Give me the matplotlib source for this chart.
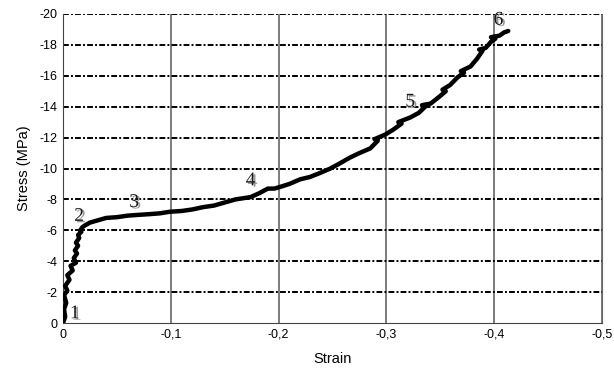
import matplotlib
matplotlib.use("Agg")
import matplotlib.pyplot as plt
import matplotlib.patheffects as pe
from matplotlib.ticker import FuncFormatter

# stress-strain curve (compression: both negative)
strain = [0.000, -0.002, -0.001, -0.003, -0.001, -0.004, -0.002, -0.006, -0.004,
          -0.009, -0.007, -0.012, -0.010, -0.013, -0.011, -0.014, -0.012, -0.015,
          -0.014, -0.017, -0.016, -0.018, -0.020, -0.025, -0.030, -0.035, -0.040,
          -0.050, -0.060, -0.070, -0.081, -0.090, -0.099, -0.110, -0.120, -0.130,
          -0.140, -0.150, -0.160, -0.174, -0.182, -0.190, -0.196, -0.201, -0.210,
          -0.220, -0.229, -0.238, -0.248, -0.256, -0.266, -0.275, -0.285, -0.292,
          -0.289, -0.299, -0.306, -0.314, -0.311, -0.322, -0.330, -0.336, -0.333,
          -0.341, -0.350, -0.355, -0.352, -0.359, -0.366, -0.372, -0.369, -0.378,
          -0.384, -0.389, -0.386, -0.392, -0.397, -0.401, -0.397, -0.405, -0.409,
          -0.413]
stress = [0.0, -0.4, -0.9, -1.3, -1.8, -2.1, -2.4, -2.8, -3.1,
          -3.4, -3.7, -3.9, -4.2, -4.5, -4.7, -5.0, -5.2, -5.5,
          -5.7, -5.9, -6.0, -6.2, -6.3, -6.5, -6.6, -6.7, -6.8,
          -6.85, -6.95, -7.0, -7.05, -7.1, -7.2, -7.25, -7.35, -7.5,
          -7.6, -7.8, -8.0, -8.15, -8.4, -8.7, -8.7, -8.8, -9.0,
          -9.3, -9.45, -9.7, -10.0, -10.3, -10.7, -11.0, -11.3, -11.8,
          -11.9, -12.2, -12.5, -12.9, -13.0, -13.3, -13.6, -14.0, -14.1,
          -14.2, -14.7, -15.0, -15.1, -15.4, -15.9, -16.2, -16.3, -16.6,
          -17.1, -17.6, -17.7, -17.8, -18.2, -18.4, -18.5, -18.6, -18.8,
          -18.9]

# numbered stages along the curve
stage_labels = ["1", "2", "3", "4", "5", "6"]
stage_strain = [-0.011, -0.015, -0.066, -0.174, -0.322, -0.404]
stage_stress = [-0.6, -6.9, -7.8, -9.2, -14.3, -19.6]

x_ticks = [0, -0.1, -0.2, -0.3, -0.4, -0.5]
y_ticks = [0, -2, -4, -6, -8, -10, -12, -14, -16, -18, -20]

plt.rcParams["font.family"] = ["Liberation Sans", "DejaVu Sans"]

fig = plt.figure(figsize=(6.14, 3.73), dpi=100)
ax = fig.add_axes([0.1026, 0.134, 0.8779, 0.8285])

ax.set_xlim(0, -0.5)
ax.set_ylim(0, -20)
ax.set_xticks(x_ticks)
ax.set_yticks(y_ticks)

comma = FuncFormatter(lambda v, _: ("%g" % v).replace(".", ",") if v != 0 else "0")
ax.xaxis.set_major_formatter(comma)
ax.yaxis.set_major_formatter(FuncFormatter(lambda v, _: "%d" % v if v != 0 else "0"))
ax.tick_params(length=0, labelsize=9, pad=4)

# grid: grey solid verticals, black dash-dot horizontals
for xv in x_ticks[1:]:
    ax.axvline(xv, color="#666666", lw=1.2, zorder=1)
for yv in y_ticks[1:]:
    ax.axhline(yv, color="black", lw=1.4, dashes=(3.0, 1.1, 1.0, 1.1), zorder=1)

ax.spines["top"].set_visible(False)
ax.spines["right"].set_color("#666666")
ax.spines["left"].set_color("#444444")
ax.spines["bottom"].set_color("#444444")

ax.plot(strain, stress, color="black", lw=3.2, solid_joinstyle="round",
        solid_capstyle="round", zorder=3)

shadow = [pe.withSimplePatchShadow(offset=(1.5, -1), shadow_rgbFace="0.6", alpha=1.0)]
for lab, sx, sy in zip(stage_labels, stage_strain, stage_stress):
    ax.text(sx, sy, lab, family="Liberation Serif", fontsize=14,
            color="#1a1a1a", ha="center", va="center", path_effects=shadow, zorder=4)

ax.set_xlabel("Strain", fontsize=10.5, labelpad=8)
ax.set_ylabel("Stress (MPa)", fontsize=10.5, labelpad=6)

fig.savefig("out.png", dpi=100)
